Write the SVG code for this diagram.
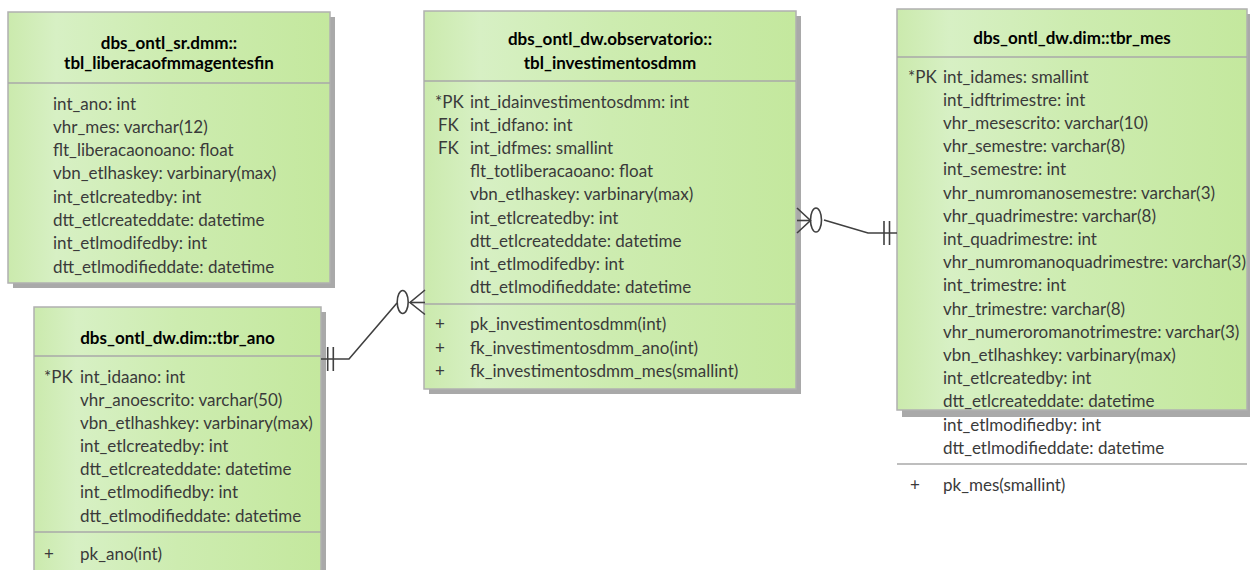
<svg xmlns="http://www.w3.org/2000/svg" width="1250" height="570" viewBox="0 0 1250 570">
<defs>
<linearGradient id="g" x1="0" y1="0" x2="1" y2="0">
<stop offset="0" stop-color="#cbeaad"/>
<stop offset="0.15" stop-color="#d7f0c4"/>
<stop offset="0.5" stop-color="#cdecb0"/>
<stop offset="1" stop-color="#c4e89e"/>
</linearGradient>
</defs>
<style>
.sh{fill:#a9a9a9}
.bx{fill:url(#g);stroke:#b0b0b0;stroke-width:1.5}
.sep{stroke:#a8a8a8;stroke-width:1.5}
.t{font-family:Lato,"Liberation Sans",sans-serif;font-size:17px;font-weight:bold;fill:#000;text-anchor:middle}
.a{font-family:Lato,"Liberation Sans",sans-serif;font-size:17px;fill:#3a3a3a}
.c{fill:none;stroke:#404040;stroke-width:1.6}
</style>
<rect width="1250" height="570" fill="#fff"/>

<g id="tbl_liberacaofmmagentesfin">
<rect class="sh" x="13" y="17" width="322" height="271"/>
<rect class="bx" x="8" y="12" width="322" height="271"/>
<line class="sep" x1="8" y1="83" x2="330" y2="83"/>
<text class="t" x="169" y="49">dbs_ontl_sr.dmm::</text>
<text class="t" x="169" y="69">tbl_liberacaofmmagentesfin</text>
<text class="a" x="53" y="109.5">int_ano: int</text>
<text class="a" x="53" y="132.8">vhr_mes: varchar(12)</text>
<text class="a" x="53" y="156.1">flt_liberacaonoano: float</text>
<text class="a" x="53" y="179.4">vbn_etlhaskey: varbinary(max)</text>
<text class="a" x="53" y="202.7">int_etlcreatedby: int</text>
<text class="a" x="53" y="226">dtt_etlcreateddate: datetime</text>
<text class="a" x="53" y="249.3">int_etlmodifedby: int</text>
<text class="a" x="53" y="272.6">dtt_etlmodifieddate: datetime</text>
</g>

<g id="tbr_ano">
<rect class="sh" x="39" y="312" width="287" height="270"/>
<rect class="bx" x="34" y="307" width="287" height="270"/>
<line class="sep" x1="34" y1="356" x2="321" y2="356"/>
<line class="sep" x1="34" y1="532" x2="321" y2="532"/>
<text class="t" x="177.5" y="344">dbs_ontl_dw.dim::tbr_ano</text>
<text class="a" x="44" y="382.5">*PK</text>
<text class="a" x="80" y="382.5">int_idaano: int</text>
<text class="a" x="80" y="405.7">vhr_anoescrito: varchar(50)</text>
<text class="a" x="80" y="428.8">vbn_etlhashkey: varbinary(max)</text>
<text class="a" x="80" y="452">int_etlcreatedby: int</text>
<text class="a" x="80" y="475.1">dtt_etlcreateddate: datetime</text>
<text class="a" x="80" y="498.3">int_etlmodifiedby: int</text>
<text class="a" x="80" y="521.5">dtt_etlmodifieddate: datetime</text>
<text class="a" x="44" y="559.5">+</text>
<text class="a" x="80" y="559.5">pk_ano(int)</text>
</g>

<g id="tbl_investimentosdmm">
<rect class="sh" x="429" y="16" width="372" height="378"/>
<rect class="bx" x="424" y="11" width="372" height="378"/>
<line class="sep" x1="424" y1="81" x2="796" y2="81"/>
<line class="sep" x1="424" y1="304" x2="796" y2="304"/>
<text class="t" x="610" y="45">dbs_ontl_dw.observatorio::</text>
<text class="t" x="610" y="69">tbl_investimentosdmm</text>
<text class="a" x="435" y="107.5">*PK</text>
<text class="a" x="438" y="130.7">FK</text>
<text class="a" x="438" y="153.9">FK</text>
<text class="a" x="470" y="107.5">int_idainvestimentosdmm: int</text>
<text class="a" x="470" y="130.7">int_idfano: int</text>
<text class="a" x="470" y="153.9">int_idfmes: smallint</text>
<text class="a" x="470" y="177.1">flt_totliberacaoano: float</text>
<text class="a" x="470" y="200.3">vbn_etlhaskey: varbinary(max)</text>
<text class="a" x="470" y="223.5">int_etlcreatedby: int</text>
<text class="a" x="470" y="246.7">dtt_etlcreateddate: datetime</text>
<text class="a" x="470" y="269.9">int_etlmodifedby: int</text>
<text class="a" x="470" y="293.1">dtt_etlmodifieddate: datetime</text>
<text class="a" x="435" y="329.5">+</text>
<text class="a" x="435" y="353.5">+</text>
<text class="a" x="435" y="376.5">+</text>
<text class="a" x="470" y="329.5">pk_investimentosdmm(int)</text>
<text class="a" x="470" y="353.5">fk_investimentosdmm_ano(int)</text>
<text class="a" x="470" y="376.5">fk_investimentosdmm_mes(smallint)</text>
</g>

<g id="tbr_mes">
<rect class="sh" x="902" y="14" width="350" height="403"/>
<rect class="bx" x="897" y="9" width="350" height="401"/>
<line class="sep" x1="897" y1="57" x2="1247" y2="57"/>
<line class="sep" x1="897" y1="464" x2="1247" y2="464"/>
<text class="t" x="1072" y="44">dbs_ontl_dw.dim::tbr_mes</text>
<text class="a" x="908" y="82.5">*PK</text>
<text class="a" x="943" y="82.5">int_idames: smallint</text>
<text class="a" x="943" y="105.7">int_idftrimestre: int</text>
<text class="a" x="943" y="128.9">vhr_mesescrito: varchar(10)</text>
<text class="a" x="943" y="152.1">vhr_semestre: varchar(8)</text>
<text class="a" x="943" y="175.3">int_semestre: int</text>
<text class="a" x="943" y="198.5">vhr_numromanosemestre: varchar(3)</text>
<text class="a" x="943" y="221.7">vhr_quadrimestre: varchar(8)</text>
<text class="a" x="943" y="244.9">int_quadrimestre: int</text>
<text class="a" x="943" y="268.1">vhr_numromanoquadrimestre: varchar(3)</text>
<text class="a" x="943" y="291.3">int_trimestre: int</text>
<text class="a" x="943" y="314.5">vhr_trimestre: varchar(8)</text>
<text class="a" x="943" y="337.7">vhr_numeroromanotrimestre: varchar(3)</text>
<text class="a" x="943" y="360.9">vbn_etlhashkey: varbinary(max)</text>
<text class="a" x="943" y="384.1">int_etlcreatedby: int</text>
<text class="a" x="943" y="407.3">dtt_etlcreateddate: datetime</text>
<text class="a" x="943" y="430.5">int_etlmodifiedby: int</text>
<text class="a" x="943" y="453.7">dtt_etlmodifieddate: datetime</text>
<text class="a" x="910" y="490.5">+</text>
<text class="a" x="943" y="490.5">pk_mes(smallint)</text>
</g>

<g id="connectors">
<polyline class="c" points="321,359 349,359 397,303"/>
<line class="c" x1="327.7" y1="347" x2="327.7" y2="371"/>
<line class="c" x1="333.3" y1="347" x2="333.3" y2="371"/>
<ellipse class="c" cx="402.7" cy="302" rx="5.5" ry="11.5"/>
<polyline class="c" points="425,290 410,302.5 425,314.5"/>
<line class="c" x1="410" y1="302.5" x2="425" y2="302.5"/>

<polyline class="c" points="824,220 868,233 897,233"/>
<line class="c" x1="884" y1="221" x2="884" y2="245"/>
<line class="c" x1="889.5" y1="221" x2="889.5" y2="245"/>
<ellipse class="c" cx="816" cy="220" rx="5.5" ry="12"/>
<polyline class="c" points="797,208 810.5,220.5 797,233"/>
<line class="c" x1="797" y1="220.5" x2="810.5" y2="220.5"/>
</g>
</svg>
